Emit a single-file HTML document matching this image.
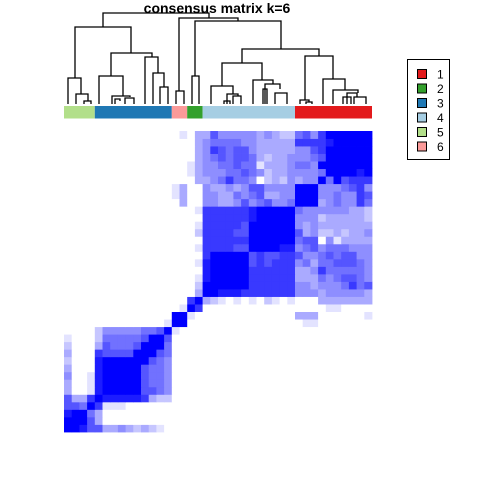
<!DOCTYPE html>
<html><head><meta charset="utf-8"><style>
body{margin:0;background:#fff}
svg text{font-family:"Liberation Sans",sans-serif}
</style></head><body>
<svg id="c" width="480" height="480" xmlns="http://www.w3.org/2000/svg">
<text x="217" y="13" text-anchor="middle" font-size="14" font-weight="bold">consensus matrix k=6</text>
<g id="dend" stroke="#000" stroke-width="1.3" fill="none"></g>
<g id="bar"></g>
<g id="heat"></g>
<g>
<rect x="407.5" y="59.5" width="42" height="100" fill="#fff" stroke="#000"/>
<g id="leg"></g>
</g>
</svg>
<script>
const groupNames=["5","3","6","2","4","1"];
const groupSizes=[4,10,2,2,12,10];
const groupColors={"1":"#E31A1C","2":"#33A02C","3":"#1F78B4","4":"#A6CEE3","5":"#B2DF8A","6":"#FB9A99"};
const legendLabels=["1","2","3","4","5","6"];
const Z14="00000000000000";
// lower-triangle rows of consensus matrix (digit/9), sample 0 = leftmost column
const matrixRows=[
"9","99","899","6659","63379","300189","3001899","40018999","300089999","2000899999",
"30007666699","200036555699","1000255555699","00002444445569",
"000000000000019","0000000000000099",
"00000000000000019","000000000000000079",
"0000000000000000039","00000000000000000299","000000000000000001899","0000000000000000008999",
"00000000000000000189999","000000000000000000799999",
"0000000000000000017777669","00000000000000000077777799",
"000000000000000002777766999","0000000000000000017777769999","00000000000000000077777789999","000000000000000001777777899999",
Z14+"0300"+"443346456445"+"9",
Z14+"1300"+"443354563344"+"99",
Z14+"1300"+"433434664444"+"999",
Z14+"0003"+"345755402324"+"3449",
Z14+"0013"+"444556542334"+"44459",
Z14+"0013"+"445565513334"+"554999",
Z14+"0003"+"456566532334"+"4456999",
Z14+"0003"+"476566433333"+"44679999",
Z14+"0003"+"455554433333"+"777789999",
Z14+"0103"+"364444434322"+"5647999999"
];
const N=matrixRows.length;
const X0=64,X1=372,Y0=131,Y1=432;
const cw=(X1-X0)/N,ch=(Y1-Y0)/N;
const xs=i=>X0+i*cw, ys=i=>Y1-(i+1)*ch;
const NS="http://www.w3.org/2000/svg";
function digit(r,c){const s=matrixRows[r];const d=s.length>c?+s[c]:0;return isNaN(d)?0:d/9;}
function val(i,j){return i>=j?digit(i,j):digit(j,i);}
const heat=document.getElementById('heat');
for(let i=0;i<N;i++)for(let j=0;j<N;j++){
 const v=val(i,j);const c=Math.round(255*(1-v));
 const r=document.createElementNS(NS,'rect');
 r.setAttribute('x',xs(j).toFixed(2));r.setAttribute('y',ys(i).toFixed(2));
 r.setAttribute('width',(cw+0.4).toFixed(2));r.setAttribute('height',(ch+0.4).toFixed(2));
 r.setAttribute('fill',`rgb(${c},${c},255)`);
 
 
 heat.appendChild(r);
}
const bar=document.getElementById('bar');let k=0;
groupNames.forEach((g,gi)=>{
 const r=document.createElementNS(NS,'rect');
 r.setAttribute('x',xs(k));r.setAttribute('y',106);r.setAttribute('width',groupSizes[gi]*cw);r.setAttribute('height',12.5);
 r.setAttribute('fill',groupColors[g]);
 
 
 bar.appendChild(r);k+=groupSizes[gi];
});
const leg=document.getElementById('leg');
legendLabels.forEach((l,i)=>{
 const y=74+i*14.5;
 const r=document.createElementNS(NS,'rect');
 r.setAttribute('x',417.5);r.setAttribute('y',y-4.5);r.setAttribute('width',9);r.setAttribute('height',9);
 r.setAttribute('fill',groupColors[l]);r.setAttribute('stroke','#000');
 
 
 leg.appendChild(r);
 const t=document.createElementNS(NS,'text');
 t.setAttribute('x',437);t.setAttribute('y',y+4.5);t.setAttribute('font-size','12');t.textContent=l;
 
 
 leg.appendChild(t);
});
const D=[[103,209,13,27,18],[75,131,27,78,53],[68,81,78,104,94],[76,88,94,104,101],[84,91,101,104,104],
[111,152,53,76,57],[99,123,76,104,96],[112,130,96,104,97],[115,120,99,104,101],[125,134,98,104,104],
[145,158,57,104,73],[153,164,73,104,87],[160,168,87,104,104],
[179,238,18,91,21],[176,184,91,104,104],[195,281,21,76,49],[192,199,76,104,104],
[242,319,49,63,56],[222,262,63,86,80],[211,233,86,104,94],[227,238,94,104,96],[224,230,101,104,104],[233,241,96,104,104],
[253,273,80,104,84],[265,280,84,104,89],[263,267,89,104,104],[275,287,93,104,104],
[305,333,56,100,79],[300,309,100,104,102],[306,312,102,104,104],[323,345,79,104,90],[333,358,90,104,93],[347,357,93,104,97],[343,351,97,104,104],[354,366,97,104,104]];
const dend=document.getElementById('dend');
D.forEach(s=>{
 const p=document.createElementNS(NS,'path');
 p.setAttribute('d',`M${s[0]},${s[3]}V${s[2]}H${s[1]}V${s[4]}`);
 
 
 dend.appendChild(p);
});
</script>
</body></html>
